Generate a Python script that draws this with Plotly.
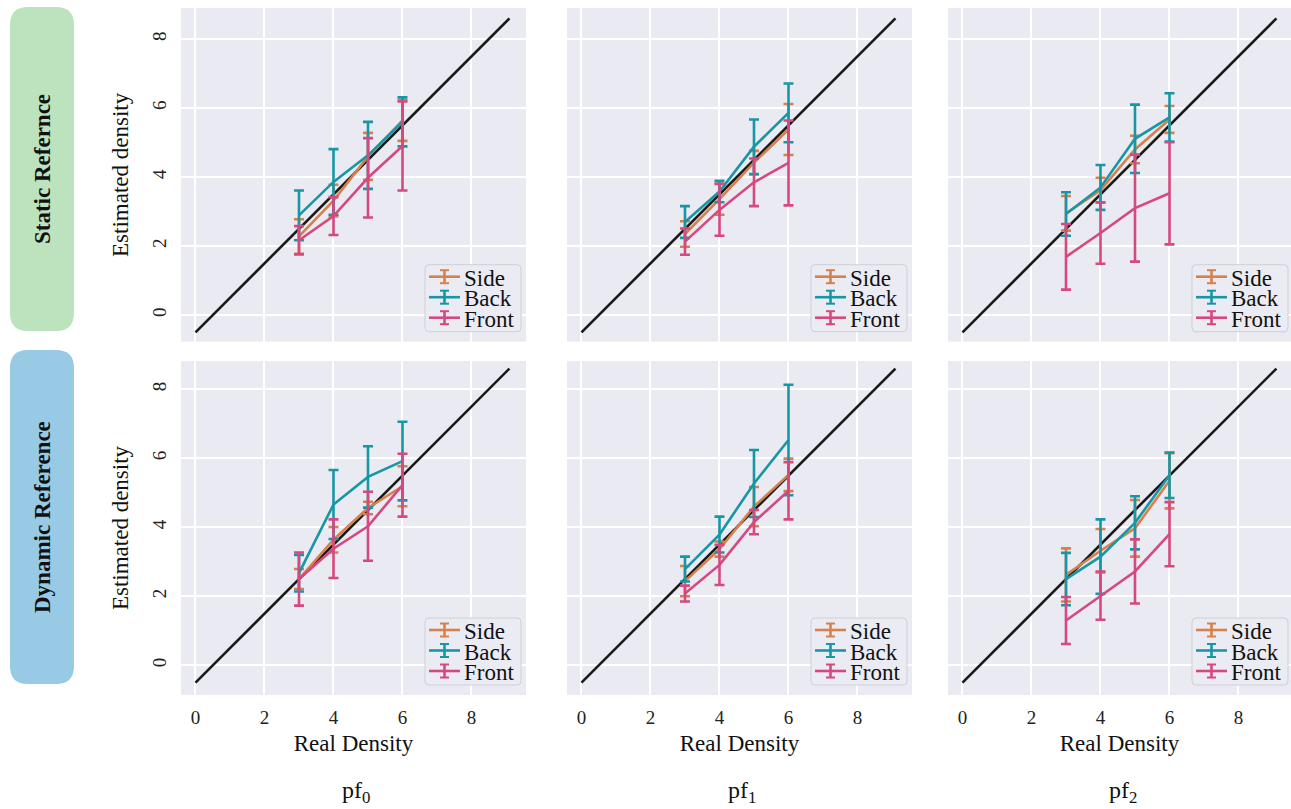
import plotly.graph_objects as go

# ---------------- data ----------------
real_density = [3, 4, 5, 6]
series_names = ["Side", "Back", "Front"]
panel_labels = ["pf<sub>0</sub>", "pf<sub>1</sub>", "pf<sub>2</sub>"]
row_labels = ["Static Refernce", "Dynamic Reference"]
tick_vals = [0, 2, 4, 6, 8]

# reference line y = x - 0.5
ref_x = [0, 9.1]
ref_offset = -0.5

# Static reference: one list per panel (pf0, pf1, pf2)
static_side_mean = [[2.28, 3.32, 4.60, 5.64], [2.35, 3.36, 4.42, 5.38], [2.95, 3.62, 4.80, 5.67]]
static_side_err = [[0.50, 0.46, 0.68, 0.59], [0.37, 0.45, 0.34, 0.74], [0.50, 0.36, 0.40, 0.39]]
static_back_mean = [[2.89, 3.86, 4.63, 5.60], [2.70, 3.58, 4.88, 5.86], [2.93, 3.70, 5.11, 5.73]]
static_back_err = [[0.72, 0.95, 0.97, 0.71], [0.46, 0.31, 0.79, 0.85], [0.63, 0.65, 0.99, 0.70]]
static_front_mean = [[2.17, 2.87, 3.98, 4.90], [2.13, 3.05, 3.85, 4.41], [1.69, 2.38, 3.10, 3.53]]
static_front_err = [[0.41, 0.55, 1.15, 1.29], [0.38, 0.75, 0.69, 1.23], [0.95, 0.89, 1.55, 1.48]]

# Dynamic reference
dynamic_side_mean = [[2.50, 3.64, 4.56, 5.19], [2.44, 3.37, 4.60, 5.52], [2.62, 3.32, 3.97, 5.35]]
dynamic_side_err = [[0.29, 0.37, 0.18, 0.58], [0.44, 0.22, 0.57, 0.47], [0.77, 0.63, 0.82, 0.80]]
dynamic_back_mean = [[2.67, 4.66, 5.46, 5.92], [2.79, 3.79, 5.27, 6.53], [2.50, 3.15, 4.13, 5.51]]
dynamic_back_err = [[0.53, 1.00, 0.89, 1.14], [0.36, 0.52, 0.97, 1.60], [0.76, 1.08, 0.77, 0.66]]
dynamic_front_mean = [[2.50, 3.38, 4.03, 5.22], [2.08, 2.91, 4.15, 5.06], [1.30, 2.02, 2.72, 3.80]]
dynamic_front_err = [[0.77, 0.85, 1.00, 0.91], [0.23, 0.58, 0.35, 0.83], [0.68, 0.70, 0.93, 0.93]]

# ---------------- style ----------------
W, H = 1291, 809
FONT = "Liberation Serif"
colors = {"Side": "#D6804B", "Back": "#1797A5", "Front": "#D64880"}
BG = "#EAEAF2"

PANEL_W = 345
col_left = [181, 567, 948]
row_px = [(8, 341.7), (361, 695)]
XR = [-0.42, 9.58]
YRS = [[-0.77, 8.9], [-0.86, 8.82]]


def px_x(p):
    return p / W


def px_y(p):
    return 1 - p / H


def rounded_path(x0, y0, x1, y1, rad):
    rx, ry = rad / W, rad / H
    X0, X1 = px_x(x0), px_x(x1)
    Yt, Yb = px_y(y0), px_y(y1)
    return (f"M {X0+rx},{Yt} L {X1-rx},{Yt} Q {X1},{Yt} {X1},{Yt-ry} "
            f"L {X1},{Yb+ry} Q {X1},{Yb} {X1-rx},{Yb} "
            f"L {X0+rx},{Yb} Q {X0},{Yb} {X0},{Yb+ry} "
            f"L {X0},{Yt-ry} Q {X0},{Yt} {X0+rx},{Yt} Z")


rows = [
    (static_side_mean, static_side_err, static_back_mean, static_back_err, static_front_mean, static_front_err),
    (dynamic_side_mean, dynamic_side_err, dynamic_back_mean, dynamic_back_err, dynamic_front_mean, dynamic_front_err),
]

fig = go.Figure()
layout = dict(
    width=W, height=H,
    margin=dict(l=0, r=0, t=0, b=0),
    paper_bgcolor="white",
    plot_bgcolor=BG,
    font=dict(family=FONT, size=19, color="#222222"),
    showlegend=False,
)

shapes = []
annotations = []

for r in range(2):
    sm, se, bm, be, fm, fe = rows[r]
    data_sets = {"Side": (sm, se), "Back": (bm, be), "Front": (fm, fe)}
    y0, y1 = row_px[r]
    for c in range(3):
        k = r * 3 + c + 1
        xa = "x" if k == 1 else f"x{k}"
        ya = "y" if k == 1 else f"y{k}"
        # reference line
        fig.add_trace(go.Scatter(
            x=ref_x, y=[v + ref_offset for v in ref_x], mode="lines",
            line=dict(color="#1a1a1a", width=2.6), xaxis=xa, yaxis=ya,
            showlegend=False, hoverinfo="skip"))
        for name in series_names:
            mean, err = data_sets[name]
            col = colors[name]
            fig.add_trace(go.Scatter(
                x=real_density, y=mean[c], mode="lines", name=name,
                line=dict(color=col, width=2.6),
                error_y=dict(type="data", array=err[c], visible=True,
                             color=col, thickness=2.6, width=5),
                xaxis=xa, yaxis=ya, showlegend=False))

        x0 = col_left[c]
        x1_full = x0 + PANEL_W
        x1 = min(x1_full, W)
        xr_end = XR[0] + (x1 - x0) / PANEL_W * (XR[1] - XR[0])

        xaxis = dict(
            domain=[px_x(x0), px_x(x1)], range=[XR[0], xr_end], anchor=ya,
            tickmode="array", tickvals=tick_vals,
            showgrid=True, gridcolor="white", gridwidth=1.5,
            zeroline=False, showline=False, ticks="",
            showticklabels=(r == 1), ticklabelstandoff=9,
            tickfont=dict(family=FONT, size=19, color="#222222"),
        )
        if r == 1:
            xaxis["title"] = dict(text="Real Density",
                                  font=dict(family=FONT, size=23, color="#111111"),
                                  standoff=7)
        yaxis = dict(
            domain=[px_y(y1), px_y(y0)], range=YRS[r], anchor=xa,
            tickmode="array", tickvals=tick_vals,
            showgrid=True, gridcolor="white", gridwidth=1.5,
            zeroline=False, showline=False, ticks="",
            showticklabels=(c == 0), tickangle=-90, ticklabelstandoff=10,
            tickfont=dict(family=FONT, size=19, color="#222222"),
        )
        if c == 0:
            yaxis["title"] = dict(text="Estimated density",
                                  font=dict(family=FONT, size=23, color="#111111"),
                                  standoff=14)
        layout["xaxis" if k == 1 else f"xaxis{k}"] = xaxis
        layout["yaxis" if k == 1 else f"yaxis{k}"] = yaxis

        # legend box (lower right, inside the panel)
        bx0, bx1 = x1_full - 101, x1_full - 5
        by0, by1 = y1 - 77, y1 - 10
        shapes.append(dict(type="path", path=rounded_path(bx0, by0, bx1, by1, 4),
                           xref="paper", yref="paper", fillcolor="#EBEBF3",
                           line=dict(color="#CFCFD6", width=1), layer="above"))
        for i, name in enumerate(series_names):
            col = colors[name]
            ey = y1 - 65 + i * 20.5
            lx0, lx1 = x1_full - 97, x1_full - 66
            cx = (lx0 + lx1) / 2
            shapes.append(dict(type="line", xref="paper", yref="paper",
                               x0=px_x(lx0), x1=px_x(lx1), y0=px_y(ey), y1=px_y(ey),
                               line=dict(color=col, width=2.6), layer="above"))
            shapes.append(dict(type="line", xref="paper", yref="paper",
                               x0=px_x(cx), x1=px_x(cx), y0=px_y(ey - 6.5), y1=px_y(ey + 6.5),
                               line=dict(color=col, width=2.6), layer="above"))
            for cy in (ey - 6.5, ey + 6.5):
                shapes.append(dict(type="line", xref="paper", yref="paper",
                                   x0=px_x(cx - 4.5), x1=px_x(cx + 4.5), y0=px_y(cy), y1=px_y(cy),
                                   line=dict(color=col, width=2), layer="above"))
            annotations.append(dict(
                text=name, x=px_x(x1_full - 64), y=px_y(ey + 1),
                xref="paper", yref="paper", xanchor="left", yanchor="middle",
                height=20, valign="middle",
                showarrow=False, font=dict(family=FONT, size=23, color="#111111")))

# row label boxes (rounded rectangles)
box_colors = ["#BDE3BE", "#98C9E5"]
box_px = [(10, 74, 7, 331), (10, 74, 350, 684)]
for i, (bx0, bx1, by0, by1) in enumerate(box_px):
    shapes.append(dict(type="path", path=rounded_path(bx0, by0, bx1, by1, 18),
                       xref="paper", yref="paper",
                       fillcolor=box_colors[i], line=dict(width=0), layer="below"))
    annotations.append(dict(
        text=f"<b>{row_labels[i]}</b>", x=px_x((bx0 + bx1) / 2), y=px_y((by0 + by1) / 2),
        xref="paper", yref="paper", showarrow=False, textangle=-90,
        xanchor="center", yanchor="middle",
        font=dict(family=FONT, size=23, color="#111111")))

# panel labels at the bottom
for c in range(3):
    x0 = col_left[c]
    annotations.append(dict(
        text=panel_labels[c], x=px_x(x0 + 175), y=0.0,
        xref="paper", yref="paper", showarrow=False,
        xanchor="center", yanchor="bottom",
        font=dict(family=FONT, size=24, color="#111111")))

layout["shapes"] = shapes
layout["annotations"] = annotations
fig.update_layout(**layout)
fig.write_html("out.html", config={"displayModeBar": False})

# remove the default page margin so the figure sits at the window's corner
with open("out.html", "r", encoding="utf-8") as f:
    html = f.read()
html = html.replace("<head>", "<head><style>html,body{margin:0;padding:0;overflow:hidden;}</style>", 1)
with open("out.html", "w", encoding="utf-8") as f:
    f.write(html)
